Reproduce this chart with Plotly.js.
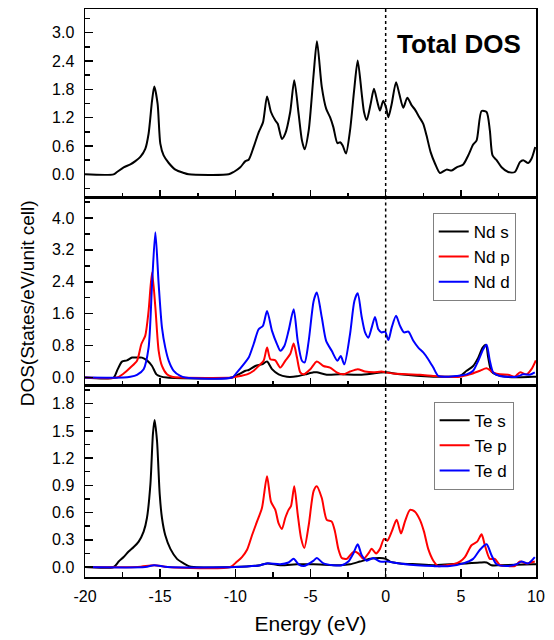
<!DOCTYPE html>
<html>
<head>
<meta charset="utf-8">
<script src="https://cdn.plot.ly/plotly-3.0.1.min.js"></script>
<style>html,body{margin:0;padding:0;background:#fff;}#chart{width:554px;height:640px;}</style>
</head>
<body>
<div id="chart"></div>
<script>
// ---------- data ----------
const totalE = [-20,-18.1,-17.87,-17.43,-16.98,-16.65,-16.32,-15.99,-15.77,-15.54,-15.39,-15.17,-14.99,-14.77,-14.43,-13.99,-13.44,-13.1,-10.44,-10.11,-9.67,-9.33,-9.11,-8.78,-8.45,-8.16,-7.89,-7.63,-7.34,-7.18,-6.9,-6.68,-6.35,-6.08,-5.79,-5.57,-5.39,-5.12,-4.79,-4.57,-4.25,-3.96,-3.7,-3.48,-3.21,-3.03,-2.86,-2.64,-2.37,-2.1,-1.86,-1.59,-1.44,-1.26,-1.0,-0.78,-0.55,-0.38,-0.16,0.02,0.18,0.4,0.69,0.91,1.17,1.44,1.73,1.95,2.24,2.5,2.72,2.99,3.28,3.61,4.05,4.39,4.72,5.16,5.49,5.82,6.05,6.38,6.71,6.93,7.11,7.38,7.71,8.15,8.59,8.93,9.15,9.48,9.7,9.95];
const totalDOS = [0,0,0.05,0.15,0.21,0.28,0.37,0.54,0.86,1.56,1.86,1.49,0.65,0.40,0.24,0.10,0.03,0,0,0.05,0.15,0.28,0.31,0.58,0.89,1.10,1.65,1.32,1.14,1.07,0.75,0.86,1.32,1.99,1.28,0.72,0.53,0.93,2.13,2.82,1.85,1.39,1.21,1.0,0.66,0.68,0.61,0.44,0.93,1.77,2.41,1.70,1.32,1.15,1.49,1.81,1.53,1.35,1.56,1.42,1.21,1.49,1.95,1.70,1.41,1.62,1.46,1.37,1.21,1.07,0.82,0.47,0.23,0.03,0.10,0.08,0.15,0.21,0.40,0.63,0.72,1.34,1.32,0.93,0.40,0.30,0.15,0.05,0.05,0.26,0.30,0.24,0.33,0.58];

const ndSE = [-20,-18.09,-17.87,-17.54,-17.21,-16.87,-16.54,-16.21,-15.88,-15.54,-15.25,-14.99,-14.55,-10.22,-9.78,-9.33,-9.11,-8.67,-8.23,-7.89,-7.56,-7.12,-6.56,-5.9,-5.34,-4.79,-4.58,-3.92,-3.03,-1.71,0,0.95,3.17,4.05,4.94,5.38,5.82,6.16,6.45,6.67,6.82,7.04,7.38,8.04,8.7,9.81,10];
const ndS = [0,0,0.17,0.40,0.43,0.50,0.50,0.50,0.43,0.29,0.08,0.03,0,0,0.08,0.17,0.19,0.29,0.33,0.40,0.21,0.08,0.02,0.03,0.08,0.13,0.13,0.07,0.08,0.07,0.13,0.08,0.02,0.02,0.04,0.17,0.29,0.50,0.75,0.82,0.50,0.15,0.07,0.02,0.01,0.02,0.02];

const ndPE = [-20,-17.87,-17.43,-16.98,-16.54,-16.25,-15.99,-15.77,-15.54,-15.32,-15.1,-14.88,-14.55,-14.21,-13.66,-10.22,-9.67,-9.22,-8.78,-8.45,-8.12,-7.89,-7.67,-7.34,-7.01,-6.68,-6.35,-6.12,-5.9,-5.68,-5.45,-5.01,-4.58,-4.14,-3.7,-3.26,-2.81,-2.37,-1.86,-1.37,-0.82,-0.27,0,0.51,1.4,2.28,3.17,4.05,4.94,5.6,6.27,6.71,7.15,7.6,8.15,8.59,8.93,9.37,9.7,9.99];
const ndP = [0,0,0.10,0.25,0.42,0.84,1.05,1.67,2.63,1.76,0.67,0.29,0.08,0.02,0,0,0.04,0.08,0.17,0.29,0.42,0.75,0.46,0.43,0.25,0.42,0.59,0.85,0.50,0.13,0.08,0.21,0.40,0.29,0.25,0.13,0.08,0.15,0.21,0.15,0.13,0.15,0.13,0.10,0.08,0.07,0.04,0.02,0.02,0.08,0.17,0.23,0.13,0.08,0.07,0.02,0.13,0.08,0.21,0.43];

const ndDE = [-20,-17.43,-16.98,-16.54,-16.1,-15.77,-15.54,-15.32,-15.1,-14.88,-14.66,-14.43,-14.1,-13.66,-13.33,-10.22,-9.89,-9.45,-9.11,-8.78,-8.45,-8.16,-7.89,-7.56,-7.23,-7.01,-6.74,-6.46,-6.12,-5.85,-5.57,-5.39,-5.12,-4.79,-4.58,-4.25,-3.96,-3.59,-3.21,-2.99,-2.75,-2.37,-2.08,-1.86,-1.59,-1.37,-1.15,-0.93,-0.71,-0.49,-0.27,-0.04,0.18,0.4,0.69,0.95,1.22,1.51,1.84,2.17,2.5,2.83,3.17,3.5,4.05,4.72,5.38,5.82,6.16,6.49,6.71,6.93,7.15,7.6,8.15,8.7,9.15,9.59,9.92];
const ndD = [0,0,0.02,0.07,0.21,0.75,2.34,3.64,2.34,1.25,0.75,0.42,0.17,0.04,0,0,0.13,0.33,0.50,0.84,1.21,1.30,1.67,1.17,0.84,0.67,0.79,1.17,1.71,0.92,0.42,0.38,0.92,1.92,2.13,1.51,0.92,0.67,0.42,0.54,0.33,1.09,1.92,2.11,1.51,1.13,1.00,1.25,1.52,1.21,1.13,1.15,0.94,1.25,1.55,1.30,1.13,1.15,0.92,0.75,0.63,0.46,0.25,0.04,0.02,0.04,0.08,0.17,0.42,0.71,0.82,0.42,0.13,0.04,0.02,0.02,0.08,0.07,0.13];

const teSE = [-20,-18.09,-17.76,-17.43,-17.1,-16.76,-16.43,-16.1,-15.88,-15.65,-15.48,-15.37,-15.21,-15.03,-14.88,-14.66,-14.32,-13.88,-13.44,-13.1,-12.77,-10.22,-8.34,-7.89,-7.01,-5.9,-4.79,-3.03,-2.37,-1.71,-1.04,-0.38,0,0.29,0.95,2.06,3.17,4.27,5.38,6.27,6.71,7.04,7.6,9.81,10];
const teS = [0,0,0.06,0.11,0.17,0.22,0.28,0.39,0.54,0.91,1.47,1.62,1.39,0.80,0.54,0.35,0.20,0.09,0.04,0.01,0,0,0.02,0.04,0.02,0.03,0.03,0.02,0.03,0.06,0.09,0.10,0.09,0.06,0.04,0.03,0.02,0.03,0.04,0.05,0.05,0.02,0.02,0.03,0.03];

const tePE = [-20,-16.5,-15.4,-14.5,-10.33,-9.89,-9.56,-9.22,-8.89,-8.56,-8.23,-7.89,-7.63,-7.34,-7.12,-6.9,-6.68,-6.46,-6.3,-6.08,-5.85,-5.63,-5.41,-5.12,-4.79,-4.58,-4.25,-3.92,-3.59,-3.37,-3.15,-2.92,-2.59,-2.26,-2.08,-1.82,-1.48,-1.15,-0.93,-0.64,-0.38,-0.11,0.11,0.4,0.73,1.02,1.28,1.62,1.95,2.28,2.55,2.83,3.17,3.5,4.05,4.5,4.94,5.27,5.71,6.09,6.38,6.6,6.93,7.26,7.6,8.15,8.59,8.93,9.37,9.92];
const teP = [0,0,0.02,0,0,0.06,0.11,0.19,0.35,0.50,0.65,1.00,0.72,0.63,0.48,0.42,0.54,0.63,0.67,0.89,0.58,0.32,0.21,0.46,0.84,0.89,0.76,0.52,0.50,0.39,0.20,0.10,0.09,0.15,0.17,0.15,0.09,0.15,0.20,0.15,0.20,0.31,0.29,0.39,0.52,0.37,0.50,0.63,0.61,0.52,0.39,0.20,0.07,0.01,0.02,0.03,0.06,0.11,0.24,0.28,0.36,0.24,0.09,0.09,0.02,0.01,0.01,0.06,0.04,0.06];

const teDE = [-20,-16,-15.4,-14.5,-10,-8.34,-7.89,-7.01,-6.46,-6.12,-5.79,-5.45,-4.79,-4.58,-4.14,-3.48,-2.92,-2.48,-2.15,-1.86,-1.59,-1.26,-0.82,-0.38,0.07,0.95,2.06,3.17,4.27,5.16,5.82,6.27,6.71,7.04,7.38,8.04,8.7,9.04,9.48,9.92];
const teD = [0,0,0.02,0,0,0.02,0.04,0.03,0.05,0.09,0.03,0.01,0.07,0.10,0.04,0.02,0.02,0.06,0.15,0.25,0.13,0.07,0.10,0.06,0.06,0.04,0.02,0.01,0.01,0.04,0.09,0.19,0.25,0.13,0.03,0.01,0.03,0.06,0.04,0.11];

const xTickVals = [-20,-15,-10,-5,0,5,10];
const xTickText = ["-20","-15","-10","-5","0","5","10"];
const ndNames = ["Nd s","Nd p","Nd d"];
const teNames = ["Te s","Te p","Te d"];
const lineColors = ["#000000","#ff0000","#0000ff"];

// ---------- traces ----------
const FONT = "Liberation Sans, Arial, Helvetica, sans-serif";
function tr(x, y, name, color, xa, ya, legend, show) {
  return {x: x, y: y, name: name, type: "scatter", mode: "lines",
    line: {color: color, width: 2, shape: "spline", smoothing: 0.7},
    xaxis: xa, yaxis: ya, legend: legend, showlegend: show, hoverinfo: "skip"};
}
const data = [
  tr(totalE, totalDOS, "Total DOS", "#000000", "x", "y", "legend", false),
  tr(ndSE, ndS, ndNames[0], lineColors[0], "x2", "y2", "legend2", true),
  tr(ndPE, ndP, ndNames[1], lineColors[1], "x2", "y2", "legend2", true),
  tr(ndDE, ndD, ndNames[2], lineColors[2], "x2", "y2", "legend2", true),
  tr(teSE, teS, teNames[0], lineColors[0], "x3", "y3", "legend3", true),
  tr(tePE, teP, teNames[1], lineColors[1], "x3", "y3", "legend3", true),
  tr(teDE, teD, teNames[2], lineColors[2], "x3", "y3", "legend3", true)
];

// ---------- layout ----------
function xax(anchor, labels) {
  return {anchor: anchor, range: [-20, 10], tickmode: "array", tickvals: xTickVals, ticktext: xTickText,
    showticklabels: labels, ticks: "inside", ticklen: 8, tickwidth: 1.5, tickcolor: "#000",
    minor: {ticks: "inside", ticklen: 5, tickwidth: 1.5, tickcolor: "#000", dtick: 2.5, tick0: 0},
    showline: true, linecolor: "#000", linewidth: 1.5, mirror: true, showgrid: false, zeroline: false,
    tickfont: {family: FONT, size: 16, color: "#000"}, ticklabelstandoff: 4};
}
function yax(anchor, domain, range, dtick) {
  return {anchor: anchor, domain: domain, range: range, dtick: dtick, tick0: 0, tickformat: ".1f",
    ticks: "inside", ticklen: 8, tickwidth: 1.5, tickcolor: "#000",
    minor: {ticks: "inside", ticklen: 5, tickwidth: 1.5, tickcolor: "#000", dtick: dtick / 2, tick0: 0},
    showline: true, linecolor: "#000", linewidth: 1.5, mirror: true, showgrid: false, zeroline: false,
    tickfont: {family: FONT, size: 16, color: "#000"}, ticklabelstandoff: 6};
}
function leg(x, y) {
  return {x: x, y: y, xref: "paper", yref: "paper", xanchor: "left", yanchor: "top",
    bgcolor: "#fff", bordercolor: "#808080", borderwidth: 1, itemwidth: 30, tracegroupgap: 0,
    font: {family: FONT, size: 17, color: "#000"}};
}
function fermi(xr, yr) {
  return {type: "line", xref: xr, yref: yr + " domain", x0: 0, x1: 0, y0: 0, y1: 1,
    line: {color: "#000", width: 1.5, dash: "dot"}};
}
const xa3 = xax("y3", true);
xa3.title = {text: "Energy (eV)", font: {family: FONT, size: 21, color: "#000"}, standoff: 12};

const layout = {
  width: 554, height: 640,
  margin: {l: 85, r: 18, t: 9, b: 63},
  paper_bgcolor: "#fff", plot_bgcolor: "#fff",
  font: {family: FONT, color: "#000"},
  xaxis: xax("y", false),
  xaxis2: xax("y2", false),
  xaxis3: xa3,
  yaxis: yax("x", [0.6673, 1], [-0.5, 3.5], 0.6),
  yaxis2: yax("x2", [0.3371, 0.6673], [-0.2, 4.5], 0.8),
  yaxis3: yax("x3", [0, 0.3371], [-0.11, 2.0], 0.3),
  legend2: leg(0.771, 0.641),
  legend3: leg(0.773, 0.3086),
  shapes: [fermi("x", "y"), fermi("x2", "y2"), fermi("x3", "y3")],
  annotations: [
    {text: "<b>Total DOS</b>", xref: "paper", yref: "paper", x: 0.830, y: 0.939,
     xanchor: "center", yanchor: "middle", showarrow: false,
     font: {family: FONT, size: 26, color: "#000"}},
    {text: "DOS(States/eV/unit cell)", xref: "paper", yref: "paper", x: -0.1284, y: 0.482,
     xanchor: "center", yanchor: "middle", textangle: -90, showarrow: false,
     font: {family: FONT, size: 19, color: "#000"}}
  ]
};

Plotly.newPlot("chart", data, layout, {staticPlot: true, displayModeBar: false});
</script>
</body>
</html>
